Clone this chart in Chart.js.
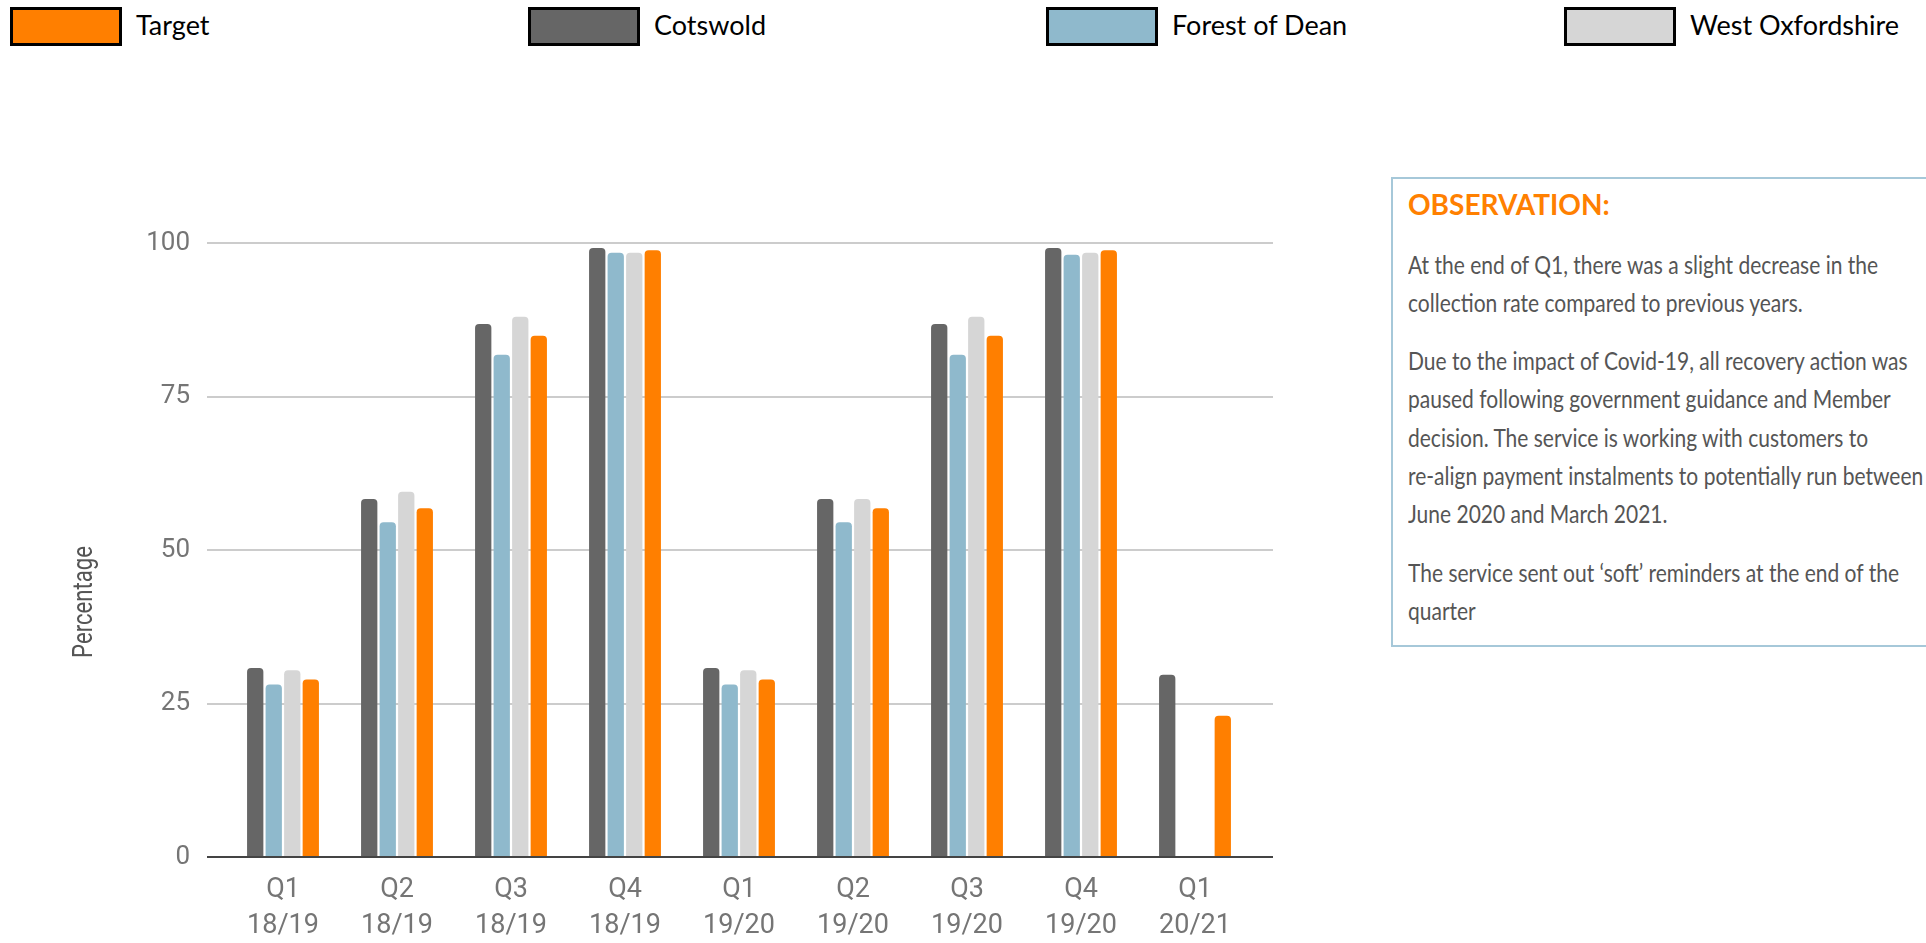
<!DOCTYPE html>
<html>
<head>
<meta charset="utf-8">
<script src="https://cdn.jsdelivr.net/npm/chart.js@4/dist/chart.umd.min.js"></script>
<style>
  html, body { margin: 0; padding: 0; background: #fff; width: 1926px; height: 943px; overflow: hidden; }
  #legend { position: absolute; left: 0; top: 0; width: 1926px; height: 60px; }
  .item { position: absolute; top: 0; height: 50px; }
  .swatch { position: absolute; left: 0; top: 7px; width: 112px; height: 39px; box-sizing: border-box; border: 3px solid #000; }
  .name { position: absolute; left: 126px; top: 5px; line-height: 39px; font-family: Lato, sans-serif; font-size: 27px; color: #000; white-space: nowrap; }
  #chartBox { position: absolute; left: 0; top: 0; width: 1300px; height: 943px; }
  #ytitle { position: absolute; left: -17px; top: 587px; width: 200px; line-height: 30px; text-align: center;
            font-family: Roboto, sans-serif; font-size: 28px; color: #555; transform: rotate(-90deg) scaleX(0.79); }
  #obs { position: absolute; left: 1391px; top: 177px; width: 600px; height: 470px; box-sizing: border-box;
         border: 2px solid #a6c8d9; }
  #obs .head { position: absolute; left: 15px; top: 11px; font-family: Lato, sans-serif; font-weight: 700;
               font-size: 28px; line-height: 28px; color: #ff8000; white-space: nowrap; }
  #obs .body { position: absolute; left: 15px; top: 65.5px; font-family: Lato, sans-serif; font-size: 25px;
               line-height: 38.3px; color: #555; white-space: nowrap; transform: scaleX(0.84); transform-origin: 0 0; }
  #obs p { margin: 0 0 20px 0; }
</style>
</head>
<body>
<div id="legend"></div>
<div id="chartBox"><canvas id="c"></canvas></div>
<div id="ytitle">Percentage</div>
<div id="obs">
  <div class="head">OBSERVATION:</div>
  <div class="body">
    <p>At the end of Q1, there was a slight decrease in the<br>collection rate compared to previous years.</p>
    <p>Due to the impact of Covid-19, all recovery action was<br>paused following government guidance and Member<br>decision. The service is working with customers to<br>re-align payment instalments to potentially run between<br>June 2020 and March 2021.</p>
    <p>The service sent out ‘soft’ reminders at the end of the<br>quarter</p>
  </div>
</div>
<script>
// Collection rate by quarter (%)
const quarters = ['Q1', 'Q2', 'Q3', 'Q4', 'Q1', 'Q2', 'Q3', 'Q4', 'Q1'];
const years = ['18/19', '18/19', '18/19', '18/19', '19/20', '19/20', '19/20', '19/20', '20/21'];
const cotswold = [30.8, 58.3, 86.8, 99.2, 30.8, 58.3, 86.8, 99.2, 29.7];
const forestOfDean = [28.1, 54.5, 81.8, 98.4, 28.1, 54.5, 81.8, 98.1, null];
const westOxfordshire = [30.4, 59.5, 88.0, 98.4, 30.4, 58.3, 88.0, 98.4, null];
const target = [28.9, 56.8, 84.9, 98.8, 28.9, 56.8, 84.9, 98.8, 23.0];
const yTicks = [0, 25, 50, 75, 100];

const seriesNames = ['Cotswold', 'Forest of Dean', 'West Oxfordshire', 'Target'];
const seriesValues = [cotswold, forestOfDean, westOxfordshire, target];
const seriesColors = ['#666666', '#8fb9cc', '#d6d6d6', '#ff7f00'];
const legendOrder = ['Target', 'Cotswold', 'Forest of Dean', 'West Oxfordshire'];

// Legend row across the top
const legendEl = document.getElementById('legend');
legendOrder.forEach((name, i) => {
  const idx = seriesNames.indexOf(name);
  const item = document.createElement('div');
  item.className = 'item';
  item.style.left = (10 + i * 518) + 'px';
  const sw = document.createElement('div');
  sw.className = 'swatch';
  sw.style.background = seriesColors[idx];
  const tx = document.createElement('div');
  tx.className = 'name';
  tx.textContent = name;
  item.appendChild(sw);
  item.appendChild(tx);
  legendEl.appendChild(item);
});

const GRID = '#cccccc';
const BASE = '#444444';
const gridColor = ctx => (ctx.tick && ctx.tick.value === 0) ? BASE : GRID;
const useTicks = s => { s.ticks = yTicks.map(v => ({ value: v })); };

new Chart(document.getElementById('c'), {
  type: 'bar',
  data: {
    labels: quarters.map((q, i) => [q, years[i]]),
    datasets: seriesNames.map((name, i) => ({
      label: name,
      data: seriesValues[i],
      backgroundColor: seriesColors[i],
      borderWidth: 0,
      borderRadius: 4,
      borderSkipped: 'start',
      barPercentage: 0.88,
      categoryPercentage: 0.65,
      yAxisID: 'y'
    }))
  },
  options: {
    responsive: true,
    maintainAspectRatio: false,
    animation: false,
    devicePixelRatio: 1,
    layout: { padding: { top: 243, right: 27, bottom: 0, left: 0 } },
    plugins: { legend: { display: false }, tooltip: { enabled: false } },
    scales: {
      x: {
        grid: { display: false, drawTicks: false },
        border: { display: false },
        ticks: { color: '#757575', font: { family: 'Roboto', size: 27, lineHeight: 1.33 }, padding: 15, maxRotation: 0, autoSkip: false },
        afterFit: s => { s.height = 86; }
      },
      y: {
        position: 'left', min: 0, max: 100,
        afterBuildTicks: useTicks,
        grid: { color: gridColor, lineWidth: 2, drawTicks: true, tickLength: 19 },
        border: { display: false },
        ticks: { color: '#757575', font: { family: 'Roboto', size: 26 }, padding: 17 },
        afterFit: s => { s.width = 226; }
      },
      y2: {
        position: 'right', min: 0, max: 100,
        afterBuildTicks: useTicks,
        grid: { color: gridColor, lineWidth: 2, drawTicks: true, tickLength: 21, drawOnChartArea: false },
        border: { display: false },
        ticks: { display: false },
        afterFit: s => { s.width = 21; }
      }
    }
  }
});
</script>
</body>
</html>
